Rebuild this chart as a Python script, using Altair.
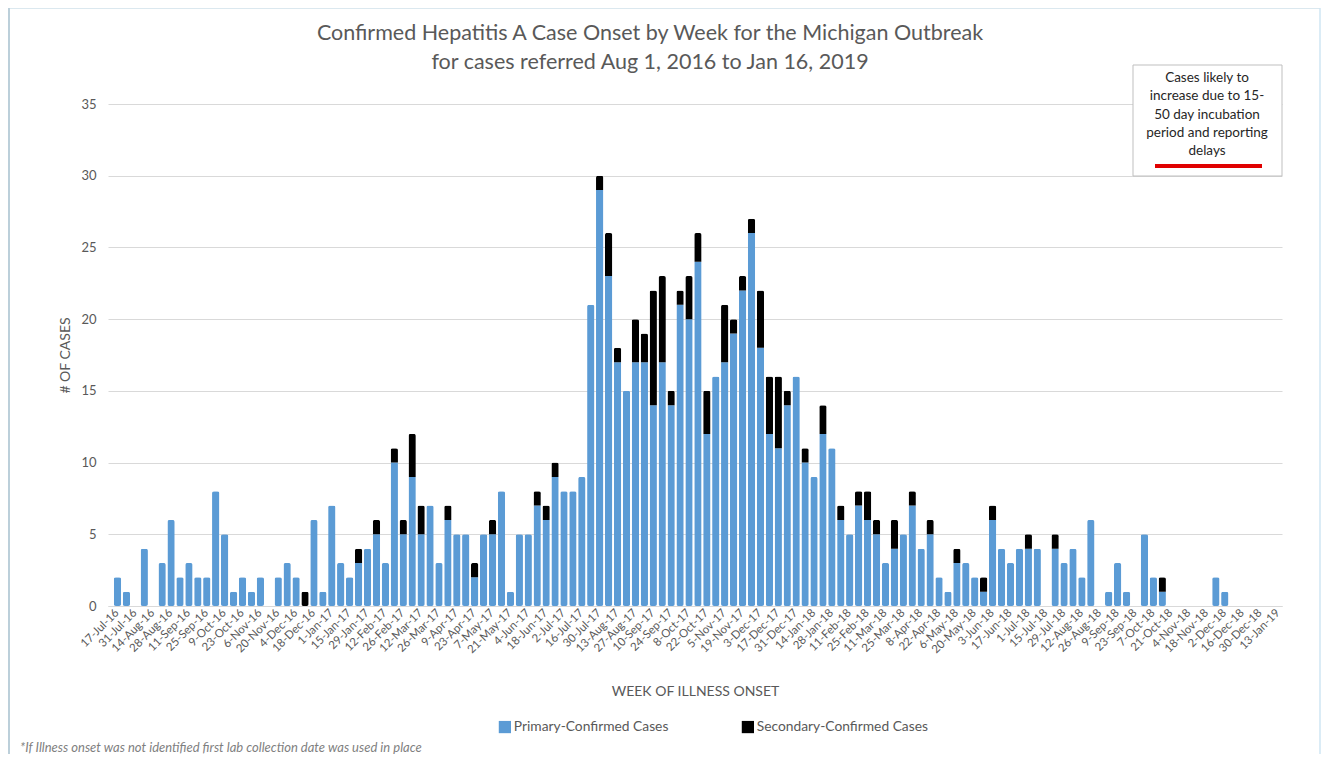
import altair as alt
import pandas as pd

# Week categories (week starting dates) and the every-other-week tick labels
weeks = [d.strftime("%-d-%b-%y") for d in pd.date_range("2016-07-17", periods=131, freq="7D")]
tick_labels = weeks[::2]

primary = [
    2, 1, 0, 4, 0, 3, 6, 2, 3, 2, 2, 8, 5, 1, 2, 1, 2, 0, 2, 3,
    2, 0, 6, 1, 7, 3, 2, 3, 4, 5, 3, 10, 5, 9, 5, 7, 3, 6, 5, 5,
    2, 5, 5, 8, 1, 5, 5, 7, 6, 9, 8, 8, 9, 21, 29, 23, 17, 15, 17, 17,
    14, 17, 14, 21, 20, 24, 12, 16, 17, 19, 22, 26, 18, 12, 11, 14, 16, 10, 9, 12,
    11, 6, 5, 7, 6, 5, 3, 4, 5, 7, 4, 5, 2, 1, 3, 3, 2, 1, 6, 4,
    3, 4, 4, 4, 0, 4, 3, 4, 2, 6, 0, 1, 3, 1, 0, 5, 2, 1, 0, 0,
    0, 0, 0, 2, 1, 0, 0, 0, 0, 0, 0,
]
secondary = [
    0, 0, 0, 0, 0, 0, 0, 0, 0, 0, 0, 0, 0, 0, 0, 0, 0, 0, 0, 0,
    0, 1, 0, 0, 0, 0, 0, 1, 0, 1, 0, 1, 1, 3, 2, 0, 0, 1, 0, 0,
    1, 0, 1, 0, 0, 0, 0, 1, 1, 1, 0, 0, 0, 0, 1, 3, 1, 0, 3, 2,
    8, 6, 1, 1, 3, 2, 3, 0, 4, 1, 1, 1, 4, 4, 5, 1, 0, 1, 0, 2,
    0, 1, 0, 1, 2, 1, 0, 2, 0, 1, 0, 1, 0, 0, 1, 0, 0, 1, 1, 0,
    0, 0, 1, 0, 0, 1, 0, 0, 0, 0, 0, 0, 0, 0, 0, 0, 0, 1, 0, 0,
    0, 0, 0, 0, 0, 0, 0, 0, 0, 0, 0,
]

series_names = ["Primary-Confirmed Cases", "Secondary-Confirmed Cases"]
series_colors = ["#5B9BD5", "#000000"]
y_ticks = [0, 5, 10, 15, 20, 25, 30, 35]

title_lines = [
    "Confirmed Hepatitis A Case Onset by Week for the Michigan Outbreak",
    "for cases referred  Aug 1, 2016 to Jan 16, 2019",
]
note_text = "Cases likely to\nincrease due to 15-\n50 day incubation\nperiod and reporting\ndelays"
footnote = "*If Illness onset was not identified first lab collection date was used in place"

rows = []
for i, w in enumerate(weeks):
    rows.append({"week": w, "series": series_names[0], "cases": primary[i], "ord": 0})
    rows.append({"week": w, "series": series_names[1], "cases": secondary[i], "ord": 1})
df = pd.DataFrame(rows)

FONT = "Lato"
GREY = "#595959"
W, H = 1174, 502

bars = alt.Chart(df).mark_bar(cornerRadius=2).encode(
    x=alt.X(
        "week:N",
        sort=weeks,
        scale=alt.Scale(paddingInner=0.18, paddingOuter=0.325, align=1),
        axis=alt.Axis(
            values=tick_labels,
            title="WEEK OF ILLNESS ONSET",
            titleFont=FONT,
            titleFontSize=14,
            titleFontWeight="normal",
            titleColor=GREY,
            titleY=85,
            titleBaseline="middle",
            labelAngle=-45,
            labelAlign="right",
            labelBaseline="middle",
            labelFont=FONT,
            labelFontSize=11.5,
            labelColor=GREY,
            labelPadding=5,
            labelOverlap=False,
            ticks=False,
            domainColor="#d9d9d9",
            grid=False,
        ),
    ),
    y=alt.Y(
        "cases:Q",
        stack="zero",
        scale=alt.Scale(domain=[0, 35], nice=False),
        axis=alt.Axis(
            values=y_ticks,
            title="# OF CASES",
            titleFont=FONT,
            titleFontSize=14,
            titleFontWeight="normal",
            titleColor=GREY,
            titleX=-43,
            titleY=251,
            titleAlign="center",
            titleBaseline="middle",
            labelFont=FONT,
            labelFontSize=13,
            labelColor=GREY,
            labelPadding=12,
            domain=False,
            ticks=False,
            gridColor="#d9d9d9",
        ),
    ),
    color=alt.Color(
        "series:N",
        scale=alt.Scale(domain=series_names, range=series_colors),
        legend=alt.Legend(
            title=None,
            orient="none",
            legendX=390,
            legendY=616,
            direction="horizontal",
            symbolType="square",
            symbolSize=150,
            symbolStrokeWidth=0,
            labelFont=FONT,
            labelFontSize=13.8,
            labelColor=GREY,
            labelOffset=2,
            labelLimit=0,
            columnPadding=72,
        ),
    ),
    order=alt.Order("ord:Q", sort="ascending"),
)

one = alt.Chart(pd.DataFrame({"k": [0]}))

title1 = one.mark_text(font=FONT, fontSize=21.5, color=GREY, align="center", baseline="middle").encode(
    x=alt.value(542), y=alt.value(-70), text=alt.value(title_lines[0])
)
title2 = one.mark_text(font=FONT, fontSize=21.5, color=GREY, align="center", baseline="middle").encode(
    x=alt.value(542), y=alt.value(-41), text=alt.value(title_lines[1])
)

box = one.mark_rect(fill="white", stroke="#bfbfbf", strokeWidth=1).encode(
    x=alt.value(1025), x2=alt.value(1174), y=alt.value(-39), y2=alt.value(72)
)
note = one.mark_text(font=FONT, fontSize=13.5, color="#262626", align="center", baseline="top",
                     lineBreak="\n", lineHeight=18.3).encode(
    x=alt.value(1099), y=alt.value(-33), text=alt.value(note_text)
)
red = one.mark_rule(color="#e00000", strokeWidth=4).encode(
    x=alt.value(1047), x2=alt.value(1154), y=alt.value(62)
)

foot = one.mark_text(font=FONT, fontSize=13, fontStyle="italic", color="#7f7f7f", align="left",
                     baseline="bottom").encode(
    x=alt.value(-88), y=alt.value(651), text=alt.value(footnote)
)

frame_left = one.mark_rule(color="#8fb0c2", strokeWidth=1.2).encode(
    x=alt.value(-99), y=alt.value(-96), y2=alt.value(660)
)
frame_top = one.mark_rule(color="#b8d2e0", strokeWidth=1).encode(
    x=alt.value(-99), x2=alt.value(1212), y=alt.value(-96)
)
frame_right = one.mark_rule(color="#cfe6f3", strokeWidth=1.5).encode(
    x=alt.value(1212), y=alt.value(-96), y2=alt.value(660)
)

chart = alt.layer(
    frame_left, frame_top, frame_right, bars, box, note, red, title1, title2, foot
).properties(
    width=W,
    height=H,
    autosize=alt.AutoSizeParams(type="none"),
    padding={"left": 100, "top": 96, "right": 39, "bottom": 148},
).configure_view(stroke=None)

chart.save("out.html", embed_options={"renderer": "svg", "actions": False})
